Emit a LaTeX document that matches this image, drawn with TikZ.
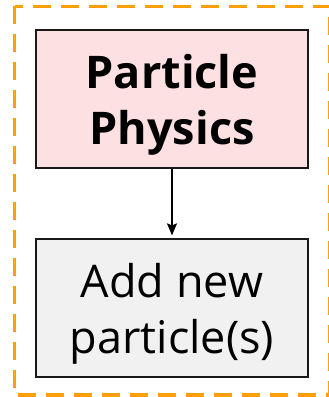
\documentclass[tikz,border=0pt]{standalone}
\usepackage{fontspec}
\setmainfont{Open Sans}
\usetikzlibrary{arrows.meta,positioning}
\definecolor{frame}{HTML}{FFA00A}
\definecolor{physfill}{HTML}{FDE1E2}
\definecolor{stepfill}{HTML}{F1F1F1}

\begin{document}
\begin{tikzpicture}[x=1pt,y=1pt,
    node distance=69pt,
    box/.style={draw=black!90,line width=1.8pt,minimum width=272pt,minimum height=138pt,
      inner sep=0pt,align=center,text height=92pt,text depth=0pt,
      font=\fontsize{45}{56}\selectfont}]
  \useasboundingbox (0,0) rectangle (329,397);
  \clip (0,0) rectangle (329,397);

  % group frame
  \draw[frame,line width=3.3pt,dash pattern=on 18pt off 10pt] (14.5,390.5) rectangle (330,2);

  % boxes
  \node[box,fill=physfill,font=\fontsize{45}{56}\selectfont\bfseries] (phys) at (172,298) {Particle\\Physics};
  \node[box,fill=stepfill,below=of phys] (addp) {Add new\\particle(s)};

  % connector
  \draw[line width=1.7pt,-{Stealth[length=12pt,width=10pt,inset=2pt]},shorten >=2.5pt] (phys) -- (addp);
\end{tikzpicture}
\end{document}
